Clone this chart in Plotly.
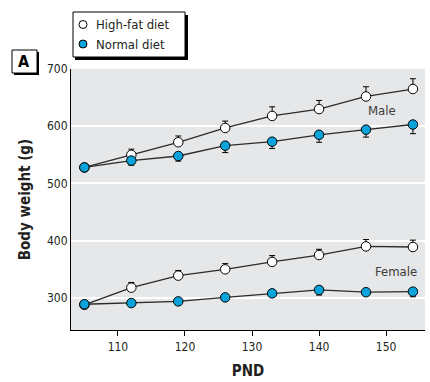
import plotly.graph_objects as go

pnd = [105, 112, 119, 126, 133, 140, 147, 154]
male_hf = [528, 550, 572, 597, 618, 630, 652, 665]
male_hf_err = [6, 10, 11, 12, 16, 15, 17, 18]
male_nd = [528, 540, 548, 566, 573, 585, 594, 603]
male_nd_err = [6, 8, 9, 12, 12, 13, 13, 16]
fem_hf = [288, 318, 339, 350, 363, 375, 390, 389]
fem_hf_err = [3, 9, 9, 10, 11, 10, 12, 12]
fem_nd = [289, 291, 294, 301, 308, 314, 310, 311]
fem_nd_err = [3, 3, 4, 4, 5, 9, 5, 9]

x_ticks = [110, 120, 130, 140, 150]
y_ticks = [300, 400, 500, 600, 700]
legend_names = ["High-fat diet", "Normal diet"]

FONT = "Liberation Sans Narrow, Arial Narrow, DejaVu Sans Condensed, sans-serif"
BLUE = "#0aa3dc"
LINE = "#2b2b2b"
TXT = "#231f20"

fig = go.Figure()

def add_series(y, err, filled, up):
    fig.add_trace(go.Scatter(
        x=pnd, y=y, mode="lines+markers", showlegend=False,
        line=dict(color=LINE, width=1.3),
        marker=dict(size=9.5, color=BLUE if filled else "white",
                    line=dict(color="black", width=1)),
        error_y=dict(type="data", symmetric=False,
                     array=err if up else [0] * len(err),
                     arrayminus=[0] * len(err) if up else err,
                     color="black", thickness=1, width=3),
    ))

add_series(male_hf, male_hf_err, False, True)
add_series(male_nd, male_nd_err, True, False)
add_series(fem_hf, fem_hf_err, False, True)
add_series(fem_nd, fem_nd_err, True, False)

L, R, T, B = 71, 5, 69, 52
PW, PH = 430 - L - R, 382 - T - B
def px(xp):
    return (xp - L) / PW
def py(yp):
    return (382 - B - yp) / PH

shapes = [
    # legend shadow + box
    dict(type="rect", xref="paper", yref="paper", x0=px(75), x1=px(188), y0=py(60), y1=py(15),
         fillcolor="black", line=dict(width=0)),
    dict(type="rect", xref="paper", yref="paper", x0=px(73), x1=px(185), y0=py(57), y1=py(12),
         fillcolor="white", line=dict(color="black", width=1)),
    # legend symbols
    dict(type="circle", xref="paper", yref="paper", x0=px(79), x1=px(87), y0=py(28.5), y1=py(20.5),
         fillcolor="white", line=dict(color="black", width=1)),
    dict(type="circle", xref="paper", yref="paper", x0=px(79), x1=px(87), y0=py(48), y1=py(40),
         fillcolor=BLUE, line=dict(color="black", width=1)),
    # A box shadow + box
    dict(type="rect", xref="paper", yref="paper", x0=px(14), x1=px(39), y0=py(75), y1=py(52),
         fillcolor="black", line=dict(width=0)),
    dict(type="rect", xref="paper", yref="paper", x0=px(12), x1=px(37), y0=py(73), y1=py(50),
         fillcolor="white", line=dict(color="black", width=1)),
]

annotations = [
    dict(text="Male", x=149.4, y=628, xref="x", yref="y", showarrow=False,
         font=dict(size=13, color="#3c3c3c")),
    dict(text="Female", x=151.4, y=346, xref="x", yref="y", showarrow=False,
         font=dict(size=13, color="#3c3c3c")),
    dict(text="<b>A</b>", x=px(24.5), y=py(61.5), xref="paper", yref="paper", showarrow=False,
         xanchor="center", yanchor="middle", font=dict(size=16, color="black")),
    dict(text=legend_names[0], x=px(94), y=py(24.5), xref="paper", yref="paper", showarrow=False,
         xanchor="left", yanchor="middle", font=dict(size=13, color=TXT)),
    dict(text=legend_names[1], x=px(94), y=py(44), xref="paper", yref="paper", showarrow=False,
         xanchor="left", yanchor="middle", font=dict(size=13, color=TXT)),
]

fig.update_layout(
    width=430, height=382,
    margin=dict(l=L, r=R, t=T, b=B),
    plot_bgcolor="#e6e7e8",
    paper_bgcolor="white",
    showlegend=False,
    font=dict(family=FONT, size=12, color=TXT),
    xaxis=dict(range=[103, 155.8], tickvals=x_ticks, showgrid=False, zeroline=False,
               showline=True, linecolor="black", linewidth=1.2,
               ticks="outside", ticklen=5, tickcolor="black",
               title=dict(text="<b>PND</b>", font=dict(size=15), standoff=12),
               tickfont=dict(size=12)),
    yaxis=dict(range=[244, 700], tickvals=y_ticks, showgrid=True, gridcolor="white",
               gridwidth=1.5, zeroline=False,
               showline=True, linecolor="black", linewidth=1.2, ticks="",
               title=dict(text="<b>Body weight (g)</b>", font=dict(size=15), standoff=12),
               tickfont=dict(size=12)),
    shapes=shapes,
    annotations=annotations,
)

fig.write_html("out.html")
